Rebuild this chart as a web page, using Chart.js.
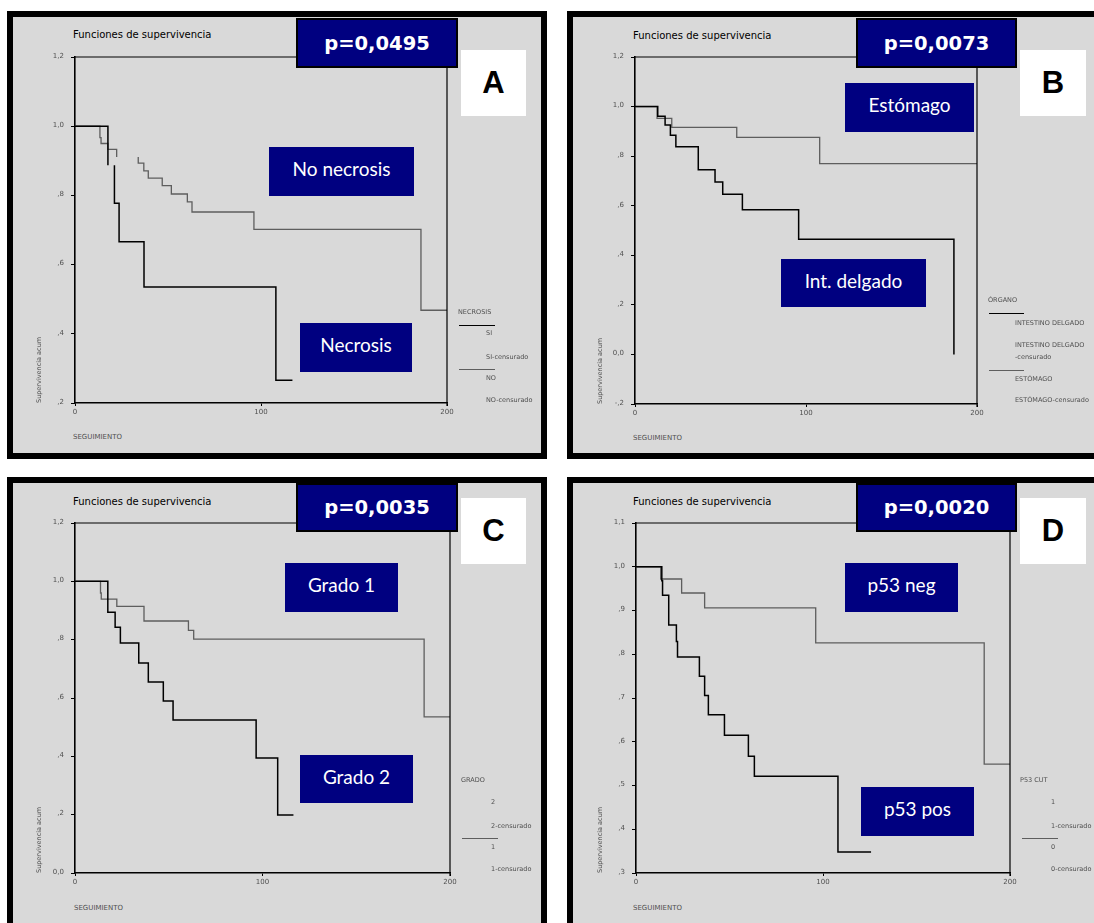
<!DOCTYPE html>
<html>
<head>
<meta charset="utf-8">
<script src="https://cdn.jsdelivr.net/npm/chart.js@4.4.1/dist/chart.umd.min.js"></script>
<style>
    html, body { margin: 0; padding: 0; background: #fff; width: 1094px; height: 923px; overflow: hidden; position: relative; font-family: 'DejaVu Sans', sans-serif; }
    .panel { position: absolute; box-sizing: border-box; border: 6px solid #000; background: #d9d9d9; }
    .txt { position: absolute; white-space: nowrap; transform: translateY(-50%); }
    .box { position: absolute; box-sizing: border-box; display: flex; align-items: center; justify-content: center; white-space: nowrap; }
    canvas { position: absolute; }
</style>
</head>
<body>
<script>
// Funciones de supervivencia — 4 Kaplan-Meier panels
const navy = '#000080';
const lineBlack = '#000000';
const lineGrey = '#5e5e5e';
const tickGrey = '#505050';

const xTickVals = [0, 100, 200];
const xTickLabels = ['0', '100', '200'];

const yValsA = [0.2, 0.4, 0.6, 0.8, 1.0, 1.2];
const yLabelsA = [',2', ',4', ',6', ',8', '1,0', '1,2'];
const yValsB = [-0.2, 0, 0.2, 0.4, 0.6, 0.8, 1.0, 1.2];
const yLabelsB = ['-,2', '0,0', ',2', ',4', ',6', ',8', '1,0', '1,2'];
const yValsC = [0, 0.2, 0.4, 0.6, 0.8, 1.0, 1.2];
const yLabelsC = ['0,0', ',2', ',4', ',6', ',8', '1,0', '1,2'];
const yValsD = [0.3, 0.4, 0.5, 0.6, 0.7, 0.8, 0.9, 1.0, 1.1];
const yLabelsD = [',3', ',4', ',5', ',6', ',7', ',8', ',9', '1,0', '1,1'];

// A: necrosis (null = break in the drawn line)
const siTime = [0, 17.7, 19.5, 21.2, 21.2, 23.7, 37.1, 108, 116.9];
const siSurv = [1.0, 0.887, null, 0.887, 0.777, 0.666, 0.535, 0.266, 0.266];
const noTime = [0, 13.4, 14.0, 17.7, 22.4, 28, 34, 34, 37, 39.4, 46.9, 51.8, 60.4, 62.9, 96.2, 186, 200];
const noSurv = [1.0, 0.967, 0.95, 0.933, 0.911, null, 0.911, 0.893, 0.871, 0.85, 0.828, 0.804, 0.781, 0.752, 0.702, 0.468, 0.468];

// B: organo
const intTime = [0, 13.3, 17.6, 20.7, 23.9, 37.0, 46.8, 51.3, 62.8, 95.7, 186.5];
const intSurv = [1.0, 0.961, 0.926, 0.884, 0.838, 0.745, 0.696, 0.646, 0.584, 0.465, 0.0];
const estTime = [0, 12.9, 21.5, 59.5, 108, 200];
const estSurv = [1.0, 0.952, 0.916, 0.876, 0.770, 0.770];

// C: grado
const g2Time = [0, 17.5, 21.4, 24.2, 34.0, 39.1, 47.1, 52.3, 96.6, 108.1, 116.5];
const g2Surv = [1.0, 0.894, 0.843, 0.789, 0.72, 0.655, 0.59, 0.525, 0.394, 0.199, 0.199];
const g1Time = [0, 13.6, 14.0, 22.3, 36.8, 60.5, 63.3, 186.2, 200];
const g1Surv = [1.0, 0.96, 0.939, 0.914, 0.864, 0.832, 0.802, 0.535, 0.535];

// D: p53
const posTime = [0, 13.8, 14.2, 17.5, 21.6, 22.2, 33.9, 36.7, 38.7, 47.3, 60.1, 63.3, 108, 125.7];
const posSurv = [1.0, 0.968, 0.935, 0.867, 0.829, 0.794, 0.75, 0.706, 0.662, 0.615, 0.567, 0.521, 0.348, 0.348];
const negTime = [0, 13.2, 24.4, 36.7, 96.1, 186.2, 200];
const negSurv = [1.0, 0.972, 0.94, 0.906, 0.826, 0.549, 0.549];

const pValues = ['p=0,0495', 'p=0,0073', 'p=0,0035', 'p=0,0020'];
const letters = ['A', 'B', 'C', 'D'];

const panels = [
    {
        box: [7, 11, 547, 459], plot: [75, 57, 447, 403],
        yVals: yValsA, yLabels: yLabelsA,
        series: [[siTime, siSurv, lineBlack], [noTime, noSurv, lineGrey]],
        pBox: [296, 18, 458, 68], letterBox: [461, 50, 526, 116],
        tags: [['No necrosis', 269, 147, 414, 196], ['Necrosis', 300, 323, 412, 372]],
        titleAt: [73, 34], xTitleAt: [73, 437], yTitleAt: [35, 403],
        legHead: ['NECROSIS', 458, 312], legX: 486,
        legItems: [['SI', 333], ['SI-censurado', 357], ['NO', 378], ['NO-censurado', 399.5]],
        legLines: [[459, 495, 325, lineBlack], [459, 495, 369, lineGrey]]
    },
    {
        box: [567, 11, 1110, 459], plot: [635, 57, 977, 404],
        yVals: yValsB, yLabels: yLabelsB,
        series: [[intTime, intSurv, lineBlack], [estTime, estSurv, lineGrey]],
        pBox: [856, 18, 1017, 68], letterBox: [1020, 50, 1086, 116],
        tags: [['Estómago', 845, 83, 974, 132], ['Int. delgado', 781, 259, 926, 307]],
        titleAt: [633, 34.5], xTitleAt: [633, 438], yTitleAt: [596, 404],
        legHead: ['ÓRGANO', 988, 300], legX: 1015,
        legItems: [['INTESTINO DELGADO', 323], ['INTESTINO DELGADO', 344.5], ['-censurado', 357], ['ESTÓMAGO', 378.5], ['ESTÓMAGO-censurado', 400]],
        legLines: [[989, 1024, 313, lineBlack], [989, 1024, 370, lineGrey]]
    },
    {
        box: [7, 477, 547, 940], plot: [75, 523, 450, 873],
        yVals: yValsC, yLabels: yLabelsC,
        series: [[g2Time, g2Surv, lineBlack], [g1Time, g1Surv, lineGrey]],
        pBox: [296, 483, 458, 532], letterBox: [461, 498, 526, 564],
        tags: [['Grado 1', 285, 563, 398, 612], ['Grado 2', 300, 755, 413, 803]],
        titleAt: [73, 501], xTitleAt: [74, 907.5], yTitleAt: [35, 873],
        legHead: ['GRADO', 461, 780], legX: 491,
        legItems: [['2', 802], ['2-censurado', 825.5], ['1', 847], ['1-censurado', 869]],
        legLines: [[462, 498, 838, lineGrey]]
    },
    {
        box: [567, 477, 1110, 940], plot: [636, 523, 1010, 873],
        yVals: yValsD, yLabels: yLabelsD,
        series: [[posTime, posSurv, lineBlack], [negTime, negSurv, lineGrey]],
        pBox: [856, 483, 1017, 532], letterBox: [1020, 498, 1086, 564],
        tags: [['p53 neg', 845, 563, 958, 612], ['p53 pos', 861, 787, 974, 836]],
        titleAt: [633, 501], xTitleAt: [633, 908], yTitleAt: [596, 873],
        legHead: ['P53 CUT', 1020, 780], legX: 1051,
        legItems: [['1', 802], ['1-censurado', 825.5], ['0', 847], ['0-censurado', 869]],
        legLines: [[1022, 1058, 838, lineGrey]]
    }
];

const framePlugin = {
    id: 'frame',
    afterDraw(chart) {
        const { ctx, chartArea: a } = chart;
        ctx.save();
        ctx.strokeStyle = '#000';
        ctx.lineWidth = 1.2;
        ctx.beginPath();
        ctx.moveTo(a.left, a.top);
        ctx.lineTo(a.right, a.top);
        ctx.lineTo(a.right, a.bottom + 3);
        ctx.stroke();
        ctx.restore();
    }
};

function el(tag, cls, css) {
    const d = document.createElement(tag);
    if (cls) d.className = cls;
    Object.assign(d.style, css || {});
    document.body.appendChild(d);
    return d;
}

function text(str, x, y, css) {
    const d = el('div', 'txt', Object.assign({ left: x + 'px', top: y + 'px' }, css));
    d.textContent = str;
    return d;
}

function rect(r, css) {
    return el('div', 'box', Object.assign({
        left: r[0] + 'px', top: r[1] + 'px', width: (r[2] - r[0]) + 'px', height: (r[3] - r[1]) + 'px'
    }, css));
}

function makeChart(p) {
    const [l, t, r, b] = p.plot;
    const cv = el('canvas', null, { left: (l - 60) + 'px', top: (t - 12) + 'px' });
    cv.width = (r - l) + 72;
    cv.height = (b - t) + 36;
    const tickFont = { family: 'DejaVu Sans', size: 7 };
    new Chart(cv, {
        type: 'line',
        data: {
            datasets: p.series.map(([times, surv, color]) => ({
                data: times.map((x, i) => ({ x, y: surv[i] })),
                stepped: true,
                borderColor: color,
                borderWidth: color === lineBlack ? 1.5 : 1.3,
                pointRadius: 0,
                fill: false,
                spanGaps: false
            }))
        },
        options: {
            responsive: false,
            animation: false,
            events: [],
            layout: { padding: { top: 12, right: 12, bottom: 0, left: 0 } },
            plugins: { legend: { display: false }, tooltip: { enabled: false } },
            scales: {
                x: {
                    type: 'linear', min: 0, max: 200,
                    afterBuildTicks: s => { s.ticks = xTickVals.map(v => ({ value: v })); },
                    afterFit: s => { s.height = 24; },
                    ticks: { callback: (v, i) => xTickLabels[i], font: tickFont, color: tickGrey, padding: 2, maxRotation: 0 },
                    grid: { drawOnChartArea: false, tickLength: 3, tickColor: '#000' },
                    border: { color: '#000', width: 1.6 }
                },
                y: {
                    type: 'linear', min: p.yVals[0], max: p.yVals[p.yVals.length - 1],
                    afterBuildTicks: s => { s.ticks = p.yVals.map(v => ({ value: v })); },
                    afterFit: s => { s.width = 60; },
                    ticks: { callback: (v, i) => p.yLabels[i], font: tickFont, color: tickGrey, padding: 7, labelOffset: -1 },
                    grid: { drawOnChartArea: false, tickLength: 4, tickColor: '#000' },
                    border: { color: '#000', width: 1.6 }
                }
            }
        },
        plugins: [framePlugin]
    });
}

function drawPanel(p, i) {
    rect(p.box, { display: 'block' }).className = 'panel';
    makeChart(p);

    const small = { fontSize: '6.5px', color: tickGrey, lineHeight: '8px' };
    text('Funciones de supervivencia', p.titleAt[0], p.titleAt[1], { fontSize: '10px', color: '#000' });
    text('SEGUIMIENTO', p.xTitleAt[0], p.xTitleAt[1], Object.assign({}, small, { fontSize: '7px' }));
    const yt = el('div', null, Object.assign({
        position: 'absolute', whiteSpace: 'nowrap', left: p.yTitleAt[0] + 'px', top: p.yTitleAt[1] + 'px',
        transform: 'rotate(-90deg)', transformOrigin: '0 0'
    }, small));
    yt.textContent = 'Supervivencia acum';

    text(p.legHead[0], p.legHead[1], p.legHead[2], small);
    p.legItems.forEach(([s, y]) => text(s, p.legX, y, small));
    p.legLines.forEach(([x1, x2, y, c]) => el('div', null, {
        position: 'absolute', left: x1 + 'px', top: (y - 0.5) + 'px', width: (x2 - x1) + 'px', height: '1.2px', background: c
    }));

    p.tags.forEach(([s, x1, y1, x2, y2]) => {
        rect([x1, y1, x2, y2], {
            background: navy, color: '#fff', fontFamily: 'Lato, sans-serif', fontSize: '19px', paddingBottom: '6px'
        }).textContent = s;
    });
    rect(p.pBox, { background: navy, border: '2px solid #000', color: '#fff', fontWeight: 'bold', fontSize: '19.5px' }).textContent = pValues[i];
    rect(p.letterBox, { background: '#fff', color: '#000', fontWeight: 'bold', fontFamily: "'Liberation Sans', Arial, sans-serif", fontSize: '31px' }).textContent = letters[i];
}

panels.forEach(drawPanel);
</script>
</body>
</html>
